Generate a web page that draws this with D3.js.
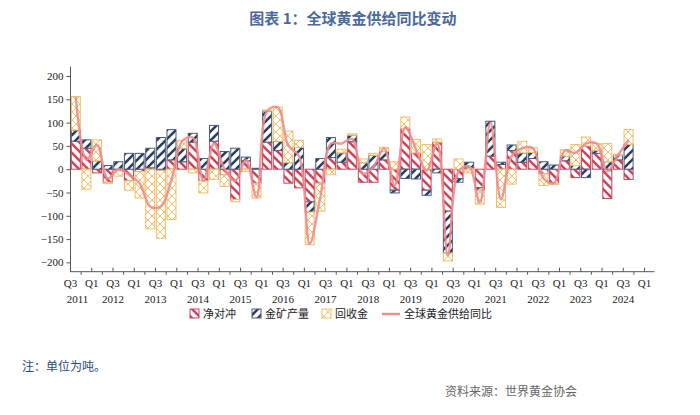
<!DOCTYPE html>
<html><head><meta charset="utf-8">
<script src="https://cdn.jsdelivr.net/npm/d3@7"></script>
<style>body{margin:0;background:#fff}</style>
</head><body><svg id="c" width="700" height="415"></svg>
<script>
// 2011Q3 .. 2024Q3
const quarters = d3.range(53).map(i => { const q = (2 + i) % 4 + 1, y = 2011 + Math.floor((2 + i) / 4); return y + "Q" + q; });
const hedge   = [60,45,-8,-28,-3,-25,-5,3,-3,20,16,58,-25,60,-12,-65,18,-30,58,40,-30,-40,-70,-30,25,15,59,-28,-28,20,-45,87,35,-45,58,-90,-20,5,-40,28,10,40,15,23,-10,-30,18,-18,50,34,-63,20,-22];
const mine    = [24,18,18,8,16,34,34,42,68,65,29,19,23,34,38,45,8,2,67,20,14,47,-22,23,43,20,14,14,30,18,-6,-20,-21,-11,-8,-90,-8,10,-5,75,5,12,20,13,16,9,10,8,-18,6,16,10,53];
const recycle = [72,-43,45,-3,-12,-20,-57,-128,-145,-108,17,-8,-26,-22,-25,-5,-5,-32,2,73,68,15,-70,-60,-12,8,3,8,4,9,16,25,29,53,7,-17,22,-8,-30,0,-82,-32,25,10,-25,-3,14,45,19,15,39,2,32];
const yoyLine = [155,20,52,-20,0,-12,-30,-80,-80,-23,60,68,-25,55,0,-25,20,-60,125,133,50,28,-160,-60,55,55,65,-10,5,45,-35,90,43,-3,55,-185,-5,6,-72,100,-65,28,45,45,-20,-30,40,35,55,55,-5,30,62];
const yTicks = [-200,-150,-100,-50,0,50,100,150,200];
const legendNames = ["净对冲","金矿产量","回收金","全球黄金供给同比"];

const svg = d3.select("#c");
const x0 = 70.5, cw = 10.63, nCells = 54;
const x = d3.scaleLinear().domain([0, nCells]).range([x0, x0 + nCells * cw]);
const y = d3.scaleLinear().domain([-220, 220]).range([271.7, 66.7]);

const defs = svg.append("defs");
function stripe(id, color, dir) {
  const p = defs.append("pattern").attr("id", id).attr("patternUnits", "userSpaceOnUse").attr("width", 9).attr("height", 9);
  p.append("rect").attr("width", 9).attr("height", 9).attr("fill", "#fff");
  const d = dir > 0 ? "M-2,2 L2,-2 M0,9 L9,0 M7,11 L11,7" : "M-2,7 L2,11 M0,0 L9,9 M7,-2 L11,2";
  p.append("path").attr("d", d).attr("stroke", color).attr("stroke-width", 2.6);
}
stripe("pH", "#c9475c", -1);
stripe("pM", "#2b3e5e", 1);
const pr = defs.append("pattern").attr("id", "pR").attr("patternUnits", "userSpaceOnUse").attr("width", 8).attr("height", 8);
pr.append("rect").attr("width", 8).attr("height", 8).attr("fill", "#fff");
pr.append("path").attr("d", "M0,0 L8,8 M8,0 L0,8").attr("stroke", "#f2bf6a").attr("stroke-width", 1);

const series = [
  { vals: hedge, fill: "url(#pH)", stroke: "#c9475c" },
  { vals: mine, fill: "url(#pM)", stroke: "#4a5d7e" },
  { vals: recycle, fill: "url(#pR)", stroke: "#f2bf6a" }
];
const g = svg.append("g");
quarters.forEach((q, i) => {
  let pos = 0, neg = 0;
  series.forEach(s => {
    const v = s.vals[i];
    let a, b;
    if (v >= 0) { a = pos; b = pos + v; pos = b; } else { a = neg; b = neg + v; neg = b; }
    g.append("rect").attr("x", x(i) + 0.8).attr("width", cw - 1.6)
      .attr("y", y(Math.max(a, b))).attr("height", Math.abs(y(a) - y(b)))
      .attr("fill", s.fill).attr("stroke", s.stroke).attr("stroke-width", 1);
  });
});

svg.append("path").datum(yoyLine)
  .attr("d", d3.line().x((d, i) => x(i + 0.5)).y(d => y(d)).curve(d3.curveCatmullRom.alpha(0.5)))
  .attr("fill", "none").attr("stroke", "#f08c8c").attr("stroke-width", 2.4).attr("opacity", 0.9);

// axes
const font = "'Liberation Serif', serif";
const ya = svg.append("g").attr("transform", `translate(${x0},0)`)
  .call(d3.axisLeft(y).tickValues(yTicks).tickSize(4));
ya.select(".domain").attr("d", `M0,${y(220)}V${y(-220)}`).attr("stroke", "#555");
ya.selectAll("text").attr("font-family", font).attr("font-size", 11).attr("fill", "#222");
ya.selectAll("line").attr("stroke", "#555");

const xa = svg.append("g").attr("transform", `translate(0,${y(-220)})`);
xa.append("line").attr("x1", x0).attr("x2", x(nCells) + 10).attr("stroke", "#555");
d3.range(nCells + 1).forEach(i => {
  xa.append("line").attr("x1", x(i)).attr("x2", x(i)).attr("y1", 0).attr("y2", i % 2 ? 3 : -4).attr("stroke", "#555");
  if (i % 2 === 0) {
    xa.append("text").attr("x", x(i)).attr("y", 15).attr("text-anchor", "middle")
      .attr("font-family", font).attr("font-size", 11).attr("fill", "#222").text(i % 4 === 0 ? "Q3" : "Q1");
  }
  if (i % 4 === 0 && i < nCells) {
    xa.append("text").attr("x", x(i) + (i === 0 ? 7 : 0)).attr("y", 31).attr("text-anchor", "middle")
      .attr("font-family", font).attr("font-size", 11).attr("fill", "#222").text(2011 + i / 4);
  }
});

// title
svg.append("text").attr("x", 353).attr("y", 24).attr("text-anchor", "middle")
  .attr("font-family", "'Noto Sans CJK SC'").attr("font-size", 15).attr("font-weight", "bold")
  .attr("fill", "#4b6a9b").text("图表 1：全球黄金供给同比变动");

// legend
const lg = svg.append("g").attr("font-family", "'Noto Sans CJK SC'").attr("font-size", 11).attr("fill", "#222");
const lx = [190, 252, 322, 382];
["url(#pH)", "url(#pM)", "url(#pR)"].forEach((f, k) => {
  lg.append("rect").attr("x", lx[k]).attr("y", 309).attr("width", 9).attr("height", 9)
    .attr("fill", f).attr("stroke", series[k].stroke);
});
lg.append("line").attr("x1", lx[3]).attr("x2", lx[3] + 18).attr("y1", 314).attr("y2", 314).attr("stroke", "#f08c8c").attr("stroke-width", 2.4);
legendNames.forEach((n, k) => {
  lg.append("text").attr("x", lx[k] + (k === 3 ? 22 : 13)).attr("y", 318).text(n);
});

svg.append("text").attr("x", 22).attr("y", 371).attr("font-family", "'Noto Sans CJK SC'").attr("font-size", 12)
  .attr("fill", "#2a4a80").text("注：单位为吨。");
svg.append("text").attr("x", 445).attr("y", 396).attr("font-family", "'Noto Sans CJK SC'").attr("font-size", 12)
  .attr("fill", "#666").text("资料来源：世界黄金协会");
</script></body></html>
